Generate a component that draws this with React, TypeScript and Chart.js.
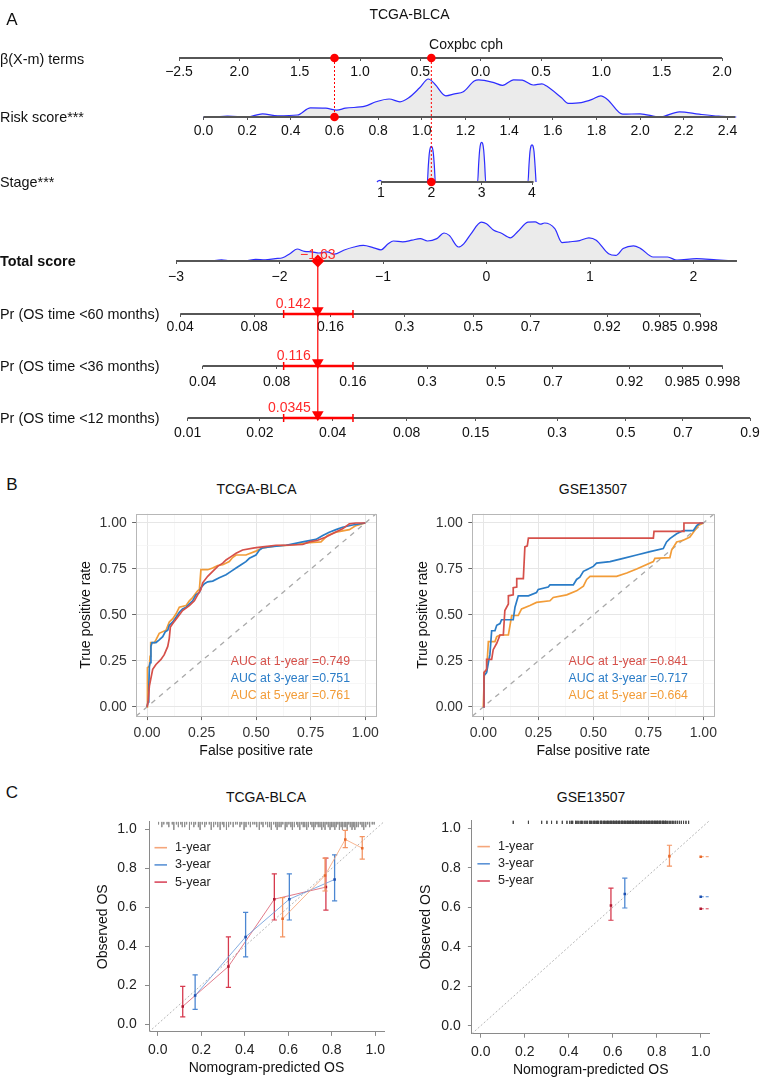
import React, { useEffect, useRef } from 'react';
import { Chart, registerables } from 'chart.js';

Chart.register(...registerables);

const FONT = "'Liberation Sans', Arial, Helvetica, sans-serif";
Chart.defaults.font.family = FONT;

// ================= Panel A : nomogram data =================
const betaTicks = [-2.5, -2, -1.5, -1, -0.5, 0, 0.5, 1, 1.5, 2];
const betaTickLabels = ['\u22122.5', '2.0', '1.5', '1.0', '0.5', '0.0', '0.5', '1.0', '1.5', '2.0'];
const riskTicks = [0, 0.2, 0.4, 0.6, 0.8, 1.0, 1.2, 1.4, 1.6, 1.8, 2.0, 2.2, 2.4];
const riskTickLabels = ['0.0', '0.2', '0.4', '0.6', '0.8', '1.0', '1.2', '1.4', '1.6', '1.8', '2.0', '2.2', '2.4'];
const stageTicks = [1, 2, 3, 4];
const stageTickLabels = ['1', '2', '3', '4'];
const totalTicks = [-3, -2, -1, 0, 1, 2];
const totalTickLabels = ['\u22123', '\u22122', '\u22121', '0', '1', '2'];
const pr60Ticks = [0.04, 0.08, 0.16, 0.3, 0.5, 0.7, 0.92, 0.985, 0.998];
const pr36Ticks = [0.04, 0.08, 0.16, 0.3, 0.5, 0.7, 0.92, 0.985, 0.998];
const pr12Ticks = [0.01, 0.02, 0.04, 0.08, 0.15, 0.3, 0.5, 0.7, 0.9];
const baseSurv60 = 0.4552;
const baseSurv36 = 0.5307;
const baseSurv12 = 0.8349;

const riskRange = [0, 2.435];
const stageRange = [1, 4.03];
const totalRange = [-3, 2.42];

const riskDensX = [0.00, 0.04, 0.11, 0.20, 0.27, 0.34, 0.43, 0.49, 0.56, 0.61, 0.65, 0.74, 0.79, 0.85, 0.90, 0.94, 0.99, 1.03, 1.06, 1.11, 1.15, 1.19, 1.24, 1.26, 1.33, 1.37, 1.42, 1.46, 1.51, 1.55, 1.57, 1.64, 1.67, 1.73, 1.78, 1.82, 1.85, 1.92, 2.00, 2.09, 2.18, 2.27, 2.36, 2.44];
const riskDensY = [0, 0, 0.02, 0, 0.08, 0.03, 0.05, 0.23, 0.22, 0.17, 0.22, 0.27, 0.38, 0.45, 0.38, 0.48, 0.73, 0.95, 0.82, 0.53, 0.58, 0.63, 0.90, 0.93, 0.86, 0.79, 0.93, 0.92, 0.80, 0.83, 0.78, 0.48, 0.34, 0.36, 0.44, 0.53, 0.44, 0.07, 0.08, 0, 0.13, 0.07, 0.02, 0];

const stageDensX = [0.92, 0.95, 0.98, 1.01, 1.04, 1.92, 1.94, 1.96, 1.98, 2.00, 2.02, 2.04, 2.06, 2.08, 2.92, 2.94, 2.96, 2.98, 3.00, 3.02, 3.04, 3.06, 3.08, 3.92, 3.94, 3.96, 3.98, 4.00, 4.02, 4.04, 4.06, 4.08];
const stageDensY = [0, 0.03, 0.04, 0.02, 0, 0, 0.4, 0.72, 0.86, 0.89, 0.86, 0.72, 0.4, 0, 0, 0.45, 0.8, 0.96, 0.99, 0.96, 0.8, 0.45, 0, 0, 0.42, 0.76, 0.9, 0.93, 0.9, 0.76, 0.42, 0];

const totalDensX = [-2.66, -2.56, -2.47, -2.33, -2.23, -2.14, -2.04, -1.97, -1.90, -1.83, -1.76, -1.69, -1.62, -1.54, -1.47, -1.38, -1.28, -1.19, -1.09, -1.02, -0.95, -0.90, -0.81, -0.72, -0.64, -0.57, -0.48, -0.41, -0.36, -0.27, -0.22, -0.15, -0.05, 0.00, 0.07, 0.14, 0.23, 0.30, 0.40, 0.47, 0.52, 0.56, 0.66, 0.73, 0.80, 0.90, 0.99, 1.06, 1.18, 1.25, 1.32, 1.42, 1.49, 1.61, 1.75, 1.84, 2.03, 2.22, 2.41];
const totalDensY = [0, 0.03, 0, 0, 0.04, 0.03, 0.06, 0.08, 0.18, 0.3, 0.24, 0.23, 0.2, 0.23, 0.17, 0.27, 0.35, 0.39, 0.33, 0.28, 0.43, 0.5, 0.48, 0.52, 0.56, 0.5, 0.56, 0.7, 0.64, 0.35, 0.43, 0.68, 0.97, 0.93, 0.77, 0.7, 0.58, 0.73, 0.97, 0.98, 0.92, 0.95, 0.81, 0.46, 0.48, 0.51, 0.58, 0.52, 0.18, 0.14, 0.31, 0.38, 0.31, 0.1, 0.1, 0.02, 0.06, 0.03, 0];

const patientRisk = 0.6;
const patientStage = 2;
const patientTotal = -1.63;
const patientTotalLabel = '\u22121.63';
const patientProbLabels = ['0.142', '0.116', '0.0345'];
const patientCI = [-1.96, -1.29];

const nomRowLabels = ['\u03b2(X-m) terms', 'Risk score***', 'Stage***', 'Total score', 'Pr (OS time <60 months)', 'Pr (OS time <36 months)', 'Pr (OS time <12 months)'];

// ================= Panel B : ROC data =================
const tcga1Fpr = [0, 0.005, 0.011, 0.026, 0.041, 0.064, 0.079, 0.095, 0.102, 0.107, 0.118, 0.140, 0.163, 0.194, 0.217, 0.232, 0.247, 0.255, 0.278, 0.301, 0.324, 0.347, 0.362, 0.385, 0.408, 0.438, 0.492, 0.530, 0.591, 0.637, 0.713, 0.744, 0.782, 0.820, 0.858, 0.896, 0.927, 0.957, 1];
const tcga1Tpr = [0, 0.027, 0.115, 0.204, 0.231, 0.258, 0.284, 0.329, 0.373, 0.435, 0.453, 0.488, 0.524, 0.551, 0.577, 0.609, 0.639, 0.675, 0.710, 0.737, 0.764, 0.782, 0.799, 0.817, 0.835, 0.853, 0.865, 0.870, 0.879, 0.879, 0.883, 0.897, 0.906, 0.924, 0.947, 0.968, 0.995, 1, 1];
const tcga3Fpr = [0, 0.005, 0.008, 0.011, 0.014, 0.018, 0.023, 0.041, 0.056, 0.072, 0.084, 0.095, 0.102, 0.118, 0.133, 0.148, 0.163, 0.179, 0.194, 0.209, 0.224, 0.240, 0.247, 0.263, 0.278, 0.301, 0.331, 0.362, 0.385, 0.408, 0.431, 0.453, 0.469, 0.499, 0.515, 0.530, 0.560, 0.637, 0.713, 0.774, 0.805, 0.835, 0.866, 0.896, 0.942, 1];
const tcga3Tpr = [0, 0.027, 0.098, 0.222, 0.240, 0.329, 0.350, 0.350, 0.364, 0.382, 0.409, 0.417, 0.444, 0.462, 0.488, 0.515, 0.533, 0.542, 0.560, 0.577, 0.609, 0.622, 0.648, 0.670, 0.680, 0.684, 0.702, 0.719, 0.737, 0.755, 0.773, 0.790, 0.808, 0.826, 0.853, 0.865, 0.870, 0.879, 0.897, 0.911, 0.932, 0.950, 0.964, 0.977, 0.989, 1];
const tcga5Fpr = [0, 0.002, 0.011, 0.014, 0.017, 0.034, 0.041, 0.056, 0.087, 0.102, 0.118, 0.133, 0.148, 0.179, 0.194, 0.209, 0.232, 0.240, 0.247, 0.278, 0.301, 0.324, 0.347, 0.377, 0.392, 0.408, 0.453, 0.499, 0.530, 0.591, 0.653, 0.744, 0.797, 0.827, 0.866, 0.927, 0.957, 1];
const tcga5Tpr = [0, 0.213, 0.222, 0.275, 0.350, 0.350, 0.364, 0.400, 0.417, 0.462, 0.480, 0.506, 0.542, 0.551, 0.577, 0.595, 0.631, 0.639, 0.746, 0.746, 0.755, 0.769, 0.773, 0.790, 0.812, 0.826, 0.826, 0.847, 0.865, 0.876, 0.879, 0.893, 0.897, 0.932, 0.950, 0.964, 0.986, 1];

const gse1Fpr = [0, 0.003, 0.015, 0.015, 0.038, 0.045, 0.061, 0.076, 0.091, 0.098, 0.114, 0.114, 0.136, 0.136, 0.152, 0.152, 0.182, 0.189, 0.200, 0.205, 0.773, 0.776, 0.909, 0.912, 1];
const gse1Tpr = [0, 0.187, 0.204, 0.258, 0.258, 0.311, 0.346, 0.391, 0.391, 0.524, 0.560, 0.604, 0.609, 0.648, 0.652, 0.698, 0.698, 0.870, 0.876, 0.918, 0.918, 0.954, 0.954, 1, 1];
const gse3Fpr = [0, 0.003, 0.015, 0.023, 0.030, 0.038, 0.053, 0.061, 0.076, 0.083, 0.136, 0.144, 0.159, 0.205, 0.242, 0.250, 0.295, 0.303, 0.409, 0.424, 0.439, 0.455, 0.470, 0.500, 0.515, 0.576, 0.636, 0.697, 0.758, 0.818, 0.833, 0.848, 0.879, 0.909, 0.955, 0.970, 0.985, 1];
const gse3Tpr = [0, 0.169, 0.187, 0.240, 0.284, 0.414, 0.414, 0.444, 0.453, 0.474, 0.474, 0.542, 0.604, 0.604, 0.622, 0.639, 0.652, 0.663, 0.663, 0.693, 0.705, 0.737, 0.746, 0.764, 0.782, 0.790, 0.808, 0.826, 0.844, 0.861, 0.897, 0.915, 0.941, 0.959, 0.959, 0.986, 1, 1];
const gse5Fpr = [0, 0.005, 0.015, 0.023, 0.053, 0.061, 0.076, 0.114, 0.129, 0.159, 0.174, 0.212, 0.242, 0.303, 0.318, 0.379, 0.424, 0.455, 0.470, 0.485, 0.606, 0.652, 0.697, 0.773, 0.780, 0.848, 0.856, 0.879, 0.909, 0.939, 0.955, 0.977, 1];
const gse5Tpr = [0, 0.190, 0.195, 0.355, 0.355, 0.382, 0.391, 0.391, 0.497, 0.497, 0.533, 0.551, 0.568, 0.577, 0.595, 0.609, 0.631, 0.657, 0.693, 0.710, 0.710, 0.728, 0.750, 0.790, 0.808, 0.812, 0.853, 0.897, 0.906, 0.924, 0.950, 0.986, 1];

const rocTicks = [0, 0.125, 0.25, 0.375, 0.5, 0.625, 0.75, 0.875, 1];
const aucTcga = ['AUC at 1-year =0.749', 'AUC at 3-year =0.751', 'AUC at 5-year =0.761'];
const aucGse = ['AUC at 1-year =0.841', 'AUC at 3-year =0.717', 'AUC at 5-year =0.664'];

// ================= Panel C : calibration data =================
const calTicks = [0, 0.2, 0.4, 0.6, 0.8, 1.0];
const calLegend = ['1-year', '3-year', '5-year'];

const tcgaPred1 = [0.574, 0.769, 0.862, 0.940];
const tcgaObs1 = [0.541, 0.764, 0.949, 0.904];
const tcgaLo1 = [0.448, 0.684, 0.907, 0.848];
const tcgaHi1 = [0.650, 0.853, 0.995, 0.963];
const tcgaPred3 = [0.172, 0.404, 0.605, 0.813];
const tcgaObs3 = [0.147, 0.448, 0.642, 0.743];
const tcgaLo3 = [0.076, 0.345, 0.535, 0.633];
const tcgaHi3 = [0.253, 0.574, 0.772, 0.870];
const tcgaPred5 = [0.115, 0.325, 0.536, 0.773];
const tcgaObs5 = [0.091, 0.296, 0.642, 0.704];
const tcgaLo5 = [0.037, 0.189, 0.535, 0.586];
const tcgaHi5 = [0.194, 0.448, 0.772, 0.853];

const gsePred1 = [0.858];
const gseObs1 = [0.860];
const gseLo1 = [0.809];
const gseHi1 = [0.915];
const gsePred3 = [0.655];
const gseObs3 = [0.668];
const gseLo3 = [0.597];
const gseHi3 = [0.748];
const gsePred5 = [0.592];
const gseObs5 = [0.610];
const gseLo5 = [0.535];
const gseHi5 = [0.698];
const gseEdgeObs = [0.857, 0.654, 0.593];

const rugTcga = [0.004, 0.019, 0.028, 0.043, 0.051, 0.067, 0.074, 0.086, 0.095, 0.106, 0.113, 0.124, 0.133, 0.146, 0.155, 0.166, 0.174, 0.187, 0.195, 0.205, 0.216, 0.224, 0.237, 0.246, 0.257, 0.266, 0.276, 0.287, 0.297, 0.304, 0.316, 0.326, 0.335, 0.347, 0.358, 0.366, 0.378, 0.386, 0.397, 0.406, 0.417, 0.426, 0.437, 0.446, 0.455, 0.467, 0.476, 0.484, 0.496, 0.505, 0.514, 0.522, 0.533, 0.542, 0.549, 0.558, 0.567, 0.575, 0.586, 0.594, 0.603, 0.612, 0.619, 0.628, 0.638, 0.644, 0.653, 0.662, 0.669, 0.676, 0.685, 0.693, 0.702, 0.709, 0.717, 0.724, 0.732, 0.738, 0.746, 0.754, 0.762, 0.769, 0.777, 0.784, 0.792, 0.799, 0.806, 0.814, 0.821, 0.828, 0.835, 0.843, 0.849, 0.857, 0.864, 0.871, 0.878, 0.885, 0.893, 0.899, 0.906, 0.914, 0.922, 0.931, 0.939, 0.947, 0.956, 0.965, 0.974, 0.986, 0.995];
const rugTcgaFreq = [1, 2, 1, 1, 2, 1, 3, 1, 2, 1, 2, 2, 1, 3, 1, 2, 1, 2, 3, 1, 2, 1, 1, 3, 2, 1, 2, 3, 1, 2, 3, 2, 1, 2, 1, 1, 2, 1, 3, 2, 1, 2, 1, 1, 2, 3, 1, 2, 1, 2, 2, 3, 1, 2, 3, 2, 2, 1, 3, 2, 1, 2, 3, 2, 1, 2, 3, 1, 2, 2, 3, 2, 1, 2, 3, 2, 1, 2, 2, 3, 2, 3, 1, 2, 3, 2, 2, 3, 2, 1, 3, 2, 3, 2, 2, 3, 1, 2, 3, 2, 3, 2, 2, 1, 2, 3, 2, 1, 2, 1, 1];
const rugGse = [0.148, 0.217, 0.277, 0.301, 0.322, 0.346, 0.371, 0.392, 0.405, 0.413, 0.418, 0.431, 0.437, 0.443, 0.452, 0.458, 0.464, 0.473, 0.479, 0.485, 0.494, 0.498, 0.503, 0.511, 0.516, 0.52, 0.527, 0.531, 0.536, 0.544, 0.548, 0.551, 0.559, 0.562, 0.566, 0.573, 0.577, 0.58, 0.587, 0.591, 0.594, 0.601, 0.604, 0.607, 0.614, 0.617, 0.62, 0.627, 0.63, 0.633, 0.64, 0.643, 0.646, 0.652, 0.655, 0.659, 0.665, 0.668, 0.671, 0.677, 0.681, 0.684, 0.69, 0.693, 0.696, 0.702, 0.705, 0.708, 0.714, 0.717, 0.72, 0.726, 0.73, 0.733, 0.739, 0.742, 0.745, 0.751, 0.754, 0.757, 0.763, 0.766, 0.769, 0.775, 0.779, 0.782, 0.788, 0.791, 0.794, 0.8, 0.803, 0.806, 0.812, 0.815, 0.818, 0.825, 0.828, 0.831, 0.837, 0.84, 0.843, 0.85, 0.857, 0.864, 0.871, 0.878, 0.886, 0.894, 0.903, 0.912, 0.922, 0.933, 0.945];
const rugGseFreq = [1];

// ================= styles / layout =================
const RED = '#ff0000';
const ROC_COLORS = ['#d6504a', '#2a7cc7', '#f29c38'];
const CAL = [
  { bar: '#f39462', line: 'rgba(246,168,126,0.85)', pt: '#e8692a', legend: '#f5a67b' },
  { bar: '#4c87d2', line: 'rgba(110,158,220,0.85)', pt: '#1c4fb0', legend: '#5c93d6' },
  { bar: '#d63a4e', line: 'rgba(220,100,118,0.85)', pt: '#b01830', legend: '#da4a5e' },
];
const A_W = 769;
const A_H = 450;
const ROW = { beta: 58, risk: 117, stage: 182, total: 261, p60: 314, p36: 366, p12: 418 };
const DENS_H = 40;

// ================= plugins =================
function textPlugin(items: any[]) {
  return {
    id: 'textMarks',
    afterDatasetsDraw(chart: any) {
      const ctx = chart.ctx;
      ctx.save();
      for (const it of items) {
        const xs = chart.scales[it.xScale || 'x'];
        const ys = chart.scales[it.yScale || 'y'];
        const px = xs.getPixelForValue(it.x) + (it.dx || 0);
        const py = ys.getPixelForValue(it.y) + (it.dy || 0);
        ctx.font = it.font;
        ctx.fillStyle = it.color;
        ctx.textAlign = it.align || 'center';
        ctx.textBaseline = 'middle';
        ctx.fillText(it.text, px, py);
      }
      ctx.restore();
    },
  };
}

function framePlugin(color: string) {
  return {
    id: 'panelFrame',
    afterDraw(chart: any) {
      const { ctx, chartArea: a } = chart;
      ctx.save();
      ctx.strokeStyle = color;
      ctx.lineWidth = 1;
      ctx.strokeRect(Math.round(a.left) + 0.5, Math.round(a.top) + 0.5, Math.round(a.right - a.left), Math.round(a.bottom - a.top));
      ctx.restore();
    },
  };
}

function insetLegend(labels: string[], colors: string[]) {
  return {
    id: 'insetLegend',
    afterDatasetsDraw(chart: any) {
      const { ctx, chartArea: a } = chart;
      ctx.save();
      ctx.font = `12.6px ${FONT}`;
      ctx.textBaseline = 'middle';
      ctx.textAlign = 'left';
      labels.forEach((lab, i) => {
        const y = a.top + 26 + i * 17.2;
        ctx.strokeStyle = colors[i];
        ctx.lineWidth = 1.6;
        ctx.beginPath();
        ctx.moveTo(a.left + 5.5, y);
        ctx.lineTo(a.left + 18, y);
        ctx.stroke();
        ctx.fillStyle = '#222';
        ctx.fillText(lab, a.left + 26, y);
      });
      ctx.restore();
    },
  };
}

// ================= Panel A config =================
function nomogramConfig() {
  const span = (v0: number, p0: number, v1: number, p1: number) => {
    const u = (v1 - v0) / (p1 - p0);
    const min = v0 - p0 * u;
    return { min, max: min + A_W * u };
  };
  const sBeta = span(-2.5, 179, 2.0, 722);
  const sRisk = span(0, 203.5, 2.4, 727.5);
  const sStage = span(1, 381, 4, 532);
  const sTotal = span(-3, 176, 2, 693.5);
  const lp = (p: number, s0: number) => Math.log(Math.log(1 - p) / Math.log(s0));
  const tickFont = { family: FONT, size: 14 };
  const rowAxis = (s: any, y: number, values: number[], labels: string[], pad: number) => ({
    type: 'linear',
    axis: 'x',
    min: s.min,
    max: s.max,
    position: { y },
    afterBuildTicks: (sc: any) => {
      sc.ticks = values.map((v) => ({ value: v }));
    },
    ticks: { autoSkip: false, maxRotation: 0, minRotation: 0, padding: pad, color: '#111', font: tickFont, callback: (_v: any, i: number) => labels[i] },
    grid: { display: true, drawOnChartArea: false, drawTicks: true, tickLength: 3, tickColor: '#555', tickWidth: 1 },
    border: { display: false },
  });
  const p60 = pr60Ticks.map((p) => lp(p, baseSurv60));
  const p36 = pr36Ticks.map((p) => lp(p, baseSurv36));
  const p12 = pr12Ticks.map((p) => lp(p, baseSurv12));

  const line = (xAxisID: string, pts: any[], extra: any) => ({
    type: 'scatter', xAxisID, yAxisID: 'y', data: pts, showLine: true, pointRadius: 0, borderWidth: 1, fill: false, ...extra,
  });
  const dens = (xAxisID: string, xs: number[], ds: number[], base: number) =>
    line(xAxisID, xs.map((x, i) => ({ x, y: base - ds[i] * DENS_H })), {
      borderColor: '#2d2dff', borderWidth: 1.2, backgroundColor: '#ebebeb', fill: { value: base }, cubicInterpolationMode: 'monotone', order: 5,
    });
  const axisLine = (xAxisID: string, a: number, b: number, y: number) =>
    line(xAxisID, [{ x: a, y }, { x: b, y }], { borderColor: '#565656', borderWidth: 2, order: 4 });
  const dash = { borderColor: RED, borderWidth: 1, borderDash: [2, 2], order: 2 };
  const dot = (xAxisID: string, pts: any[], style: string, r: number, rot = 0) => ({
    type: 'scatter', xAxisID, yAxisID: 'y', data: pts, showLine: false, pointStyle: style, pointRadius: r, pointRotation: rot,
    pointBackgroundColor: RED, pointBorderColor: RED, pointBorderWidth: 0, order: 1,
  });
  const probRows = [ROW.p60, ROW.p36, ROW.p12];

  const datasets: any[] = [
    dens('xRisk', riskDensX, riskDensY, ROW.risk),
    dens('xStage', stageDensX, stageDensY, ROW.stage),
    dens('xTotal', totalDensX, totalDensY, ROW.total),
    axisLine('xBeta', betaTicks[0], betaTicks[betaTicks.length - 1], ROW.beta),
    axisLine('xRisk', riskRange[0], riskRange[1], ROW.risk),
    axisLine('xStage', stageRange[0], stageRange[1], ROW.stage),
    axisLine('xTotal', totalRange[0], totalRange[1], ROW.total),
    axisLine('x60', p60[0], p60[p60.length - 1], ROW.p60),
    axisLine('x36', p36[0], p36[p36.length - 1], ROW.p36),
    axisLine('x12', p12[0], p12[p12.length - 1], ROW.p12),
    line('xRisk', [{ x: patientRisk, y: ROW.beta }, { x: patientRisk, y: ROW.risk }], dash),
    line('xStage', [{ x: patientStage, y: ROW.beta }, { x: patientStage, y: ROW.stage }], dash),
    dot('xRisk', [{ x: patientRisk, y: ROW.beta }, { x: patientRisk, y: ROW.risk }], 'circle', 4.3),
    dot('xStage', [{ x: patientStage, y: ROW.beta }, { x: patientStage, y: ROW.stage }], 'circle', 4.3),
    line('xTotal', [{ x: patientTotal, y: ROW.total }, { x: patientTotal, y: ROW.p12 }], { borderColor: RED, borderWidth: 1.2, order: 2 }),
    dot('xTotal', [{ x: patientTotal, y: ROW.total }], 'rectRot', 6.5),
  ];
  probRows.forEach((r) => {
    datasets.push(line('xTotal', [{ x: patientCI[0], y: r }, { x: patientCI[1], y: r }], {
      borderColor: RED, borderWidth: 2.5, pointStyle: 'line', pointRotation: 90, pointRadius: 4, pointBorderColor: RED, pointBorderWidth: 1.5, order: 1,
    }));
    datasets.push(dot('xTotal', [{ x: patientTotal, y: r - 3.4 }], 'triangle', 6.7, 180));
  });

  const redFont = `14px ${FONT}`;
  const texts = [
    { xScale: 'xTotal', x: patientTotal, y: ROW.total, dy: -6, text: patientTotalLabel, color: '#ff2a2a', font: redFont, align: 'center' },
    ...probRows.map((r, i) => ({ xScale: 'xTotal', x: patientTotal, y: r, dx: -7, dy: -10, text: patientProbLabels[i], color: '#ff2a2a', font: redFont, align: 'right' })),
  ];

  return {
    type: 'scatter',
    data: { datasets },
    plugins: [textPlugin(texts)],
    options: {
      responsive: false,
      animation: false,
      events: [],
      layout: { padding: 0, autoPadding: false },
      plugins: { legend: { display: false }, tooltip: { enabled: false } },
      scales: {
        y: { type: 'linear', min: 0, max: A_H, reverse: true, display: false },
        xBeta: rowAxis(sBeta, ROW.beta, betaTicks, betaTickLabels, 2.3),
        xRisk: rowAxis(sRisk, ROW.risk, riskTicks, riskTickLabels, 2.3),
        xStage: rowAxis(sStage, ROW.stage, stageTicks, stageTickLabels, 0),
        xTotal: rowAxis(sTotal, ROW.total, totalTicks, totalTickLabels, 4.3),
        x60: rowAxis(sTotal, ROW.p60, p60, pr60Ticks.map(String), 1.3),
        x36: rowAxis(sTotal, ROW.p36, p36, pr36Ticks.map(String), 4.6),
        x12: rowAxis(sTotal, ROW.p12, p12, pr12Ticks.map(String), 3.6),
      },
    },
  };
}

// ================= Panel B config =================
function rocConfig(curves: { fpr: number[]; tpr: number[] }[], aucLabels: string[], box: any) {
  const isMajor = (v: number) => Math.abs(v * 4 - Math.round(v * 4)) < 1e-6;
  const tickFont = { family: FONT, size: 14 };
  const axis = (title: string, pad: number, fit: (s: any) => void) => ({
    type: 'linear',
    min: -0.05,
    max: 1.05,
    afterBuildTicks: (s: any) => {
      s.ticks = rocTicks.map((v) => ({ value: v }));
    },
    afterFit: fit,
    ticks: { autoSkip: false, maxRotation: 0, padding: pad, color: '#333', font: tickFont, callback: (v: any) => (isMajor(Number(v)) ? Number(v).toFixed(2) : '') },
    grid: {
      color: (c: any) => (c.tick && isMajor(c.tick.value) ? '#e6e6e6' : '#f3f3f3'),
      lineWidth: (c: any) => (c.tick && isMajor(c.tick.value) ? 1 : 0.7),
      tickColor: (c: any) => (c.tick && isMajor(c.tick.value) ? '#666' : 'rgba(0,0,0,0)'),
      tickLength: 4,
      drawTicks: true,
    },
    border: { display: false },
    title: { display: true, text: title, color: '#111', font: { family: FONT, size: 14 }, padding: 0 },
  });
  const datasets: any[] = curves.map((c, i) => ({
    data: c.fpr.map((x, j) => ({ x, y: c.tpr[j] })),
    showLine: true, pointRadius: 0, borderColor: ROC_COLORS[i], borderWidth: 1.7, fill: false,
  }));
  datasets.push({
    data: [{ x: -0.05, y: -0.05 }, { x: 1.05, y: 1.05 }], showLine: true, pointRadius: 0, borderColor: '#a9a9a9', borderWidth: 1.3, borderDash: [5, 5],
  });
  const texts = aucLabels.map((t, i) => ({ x: 0.93, y: [0.245, 0.152, 0.06][i], text: t, color: ROC_COLORS[i], font: `12.3px ${FONT}`, align: 'right' }));
  return {
    type: 'scatter',
    data: { datasets },
    plugins: [textPlugin(texts), framePlugin('#b7b7b7')],
    options: {
      responsive: false,
      animation: false,
      events: [],
      layout: { padding: { left: 0, bottom: 0, top: box.padTop, right: box.padRight }, autoPadding: false },
      plugins: { legend: { display: false }, tooltip: { enabled: false } },
      scales: {
        x: axis('False positive rate', box.xPad, (s: any) => { s.height = box.xH; }),
        y: axis('True positive rate', box.yPad, (s: any) => { s.width = box.yW; }),
      },
    },
  };
}

// ================= Panel C config =================
function rugPoints(vals: number[], freq: number[], top: number, unit: number) {
  const pts: any[] = [];
  vals.forEach((v, i) => {
    const f = freq[i] ?? freq[0] ?? 1;
    pts.push({ x: v, y: top }, { x: v, y: top - f * unit }, { x: v, y: null });
  });
  return pts;
}

function calConfig(series: { pred: number[]; obs: number[]; lo: number[]; hi: number[] }[], connect: boolean, rug: any[], rugColor: string, edges: number[] | null, box: any) {
  const tickFont = { family: FONT, size: 14 };
  const axis = (title: string, pad: number, fit: (s: any) => void) => ({
    type: 'linear',
    min: -0.04,
    max: 1.04,
    afterBuildTicks: (s: any) => {
      s.ticks = calTicks.map((v) => ({ value: v }));
    },
    afterFit: fit,
    ticks: { autoSkip: false, maxRotation: 0, padding: pad, color: '#222', font: tickFont, callback: (v: any) => Number(v).toFixed(1) },
    grid: { display: true, drawOnChartArea: false, drawTicks: true, tickLength: 4, tickColor: '#8a8a8a' },
    border: { display: true, color: '#8a8a8a', width: 1 },
    title: { display: true, text: title, color: '#111', font: { family: FONT, size: 14 }, padding: 0 },
  });
  const datasets: any[] = [];
  series.forEach((s, k) => {
    const c = CAL[k];
    datasets.push({
      data: s.pred.map((x, i) => ({ x, y: s.obs[i] })), showLine: false, pointStyle: 'rect', pointRadius: 1.8,
      pointBackgroundColor: c.pt, pointBorderColor: c.pt, pointBorderWidth: 0,
    });
    const bars: any[] = [];
    s.pred.forEach((x, i) => { bars.push({ x, y: s.lo[i] }, { x, y: s.hi[i] }, { x, y: null }); });
    datasets.push({
      data: bars, showLine: true, borderColor: c.bar, borderWidth: 1.3, pointStyle: 'line', pointRadius: 2.6,
      pointBorderColor: c.bar, pointBorderWidth: 1.2, spanGaps: false,
    });
    if (connect) {
      datasets.push({ data: s.pred.map((x, i) => ({ x, y: s.obs[i] })), showLine: true, pointRadius: 0, borderColor: c.line, borderWidth: 1 });
    }
  });
  if (edges) {
    edges.forEach((yv, k) => {
      datasets.push({
        data: [{ x: 1.0, y: yv }, { x: 1.04, y: yv }], showLine: true, borderColor: CAL[k].bar, borderWidth: 1, borderDash: [3, 2],
        pointStyle: 'rect', pointRadius: [1.8, 0], pointBackgroundColor: CAL[k].pt, pointBorderWidth: 0,
      });
    });
  }
  datasets.push({ data: rug, showLine: true, pointRadius: 0, borderColor: rugColor, borderWidth: 0.8, spanGaps: false });
  datasets.push({ data: [{ x: -0.04, y: -0.04 }, { x: 1.04, y: 1.04 }], showLine: true, pointRadius: 0, borderColor: '#b5b5b5', borderWidth: 1, borderDash: [2, 2] });
  return {
    type: 'scatter',
    data: { datasets },
    plugins: [insetLegend(calLegend, CAL.map((c) => c.legend))],
    options: {
      responsive: false,
      animation: false,
      events: [],
      layout: { padding: { left: 0, bottom: 0, top: box.padTop, right: box.padRight }, autoPadding: false },
      plugins: { legend: { display: false }, tooltip: { enabled: false } },
      scales: {
        x: axis('Nomogram-predicted OS', box.xPad, (s: any) => { s.height = box.xH; }),
        y: axis('Observed OS', box.yPad, (s: any) => { s.width = box.yW; }),
      },
    },
  };
}

// ================= components =================
function ChartCanvas({ left, top, width, height, make }: any) {
  const ref = useRef<HTMLCanvasElement | null>(null);
  useEffect(() => {
    const chart = new Chart(ref.current as HTMLCanvasElement, make());
    return () => chart.destroy();
  }, []);
  return <canvas ref={ref} width={width} height={height} style={{ position: 'absolute', left, top, width, height }} />;
}

function Txt({ x, y, text, size = 14, bold = false, align = 'center' }: any) {
  return (
    <div
      style={{
        position: 'absolute', left: x, top: y, transform: align === 'center' ? 'translate(-50%,-50%)' : 'translate(0,-50%)',
        fontFamily: FONT, fontSize: size, fontWeight: bold ? 'bold' : 'normal', lineHeight: 1, whiteSpace: 'nowrap', color: '#111',
      }}
    >
      {text}
    </div>
  );
}

export default function App() {
  const rowYs = [59, 117, 182, 261, 314, 366, 418];
  return (
    <div style={{ position: 'absolute', left: 0, top: 0, width: 769, height: 1081, overflow: 'hidden', background: '#fff' }}>
      <ChartCanvas left={0} top={0} width={A_W} height={A_H} make={nomogramConfig} />
      <ChartCanvas
        left={78} top={500} width={312} height={260}
        make={() => rocConfig(
          [{ fpr: tcga1Fpr, tpr: tcga1Tpr }, { fpr: tcga3Fpr, tpr: tcga3Tpr }, { fpr: tcga5Fpr, tpr: tcga5Tpr }],
          aucTcga,
          { padTop: 9.6, padRight: 13.8, yW: 58.1, xH: 43.9, xPad: 4.8, yPad: 5.4 },
        )}
      />
      <ChartCanvas
        left={415} top={500} width={313} height={260}
        make={() => rocConfig(
          [{ fpr: gse1Fpr, tpr: gse1Tpr }, { fpr: gse3Fpr, tpr: gse3Tpr }, { fpr: gse5Fpr, tpr: gse5Tpr }],
          aucGse,
          { padTop: 9.6, padRight: 13.7, yW: 57.3, xH: 43.9, xPad: 4.8, yPad: 5.4 },
        )}
      />
      <ChartCanvas
        left={95} top={805} width={303} height={272}
        make={() => calConfig(
          [
            { pred: tcgaPred1, obs: tcgaObs1, lo: tcgaLo1, hi: tcgaHi1 },
            { pred: tcgaPred3, obs: tcgaObs3, lo: tcgaLo3, hi: tcgaHi3 },
            { pred: tcgaPred5, obs: tcgaObs5, lo: tcgaLo5, hi: tcgaHi5 },
          ],
          true,
          rugPoints(rugTcga, rugTcgaFreq, 1.04, 0.014),
          '#8c8c8c',
          null,
          { padTop: 13.8, padRight: 14, yW: 54, xH: 45.1, xPad: 5.7, yPad: 8.3 },
        )}
      />
      <ChartCanvas
        left={418} top={805} width={306} height={274}
        make={() => calConfig(
          [
            { pred: gsePred1, obs: gseObs1, lo: gseLo1, hi: gseHi1 },
            { pred: gsePred3, obs: gseObs3, lo: gseLo3, hi: gseHi3 },
            { pred: gsePred5, obs: gseObs5, lo: gseLo5, hi: gseHi5 },
          ],
          false,
          rugPoints(rugGse, rugGseFreq, 1.04, 0.017),
          '#444444',
          gseEdgeObs,
          { padTop: 12, padRight: 14.5, yW: 53.9, xH: 45.3, xPad: 5.6, yPad: 7.2 },
        )}
      />

      <Txt x={12} y={19} text="A" size={17} />
      <Txt x={409.5} y={14} text="TCGA-BLCA" />
      <Txt x={466} y={44} text="Coxpbc cph" />
      {nomRowLabels.map((t, i) => (
        <Txt key={t} x={0} y={rowYs[i]} text={t} align="left" bold={i === 3} size={14.4} />
      ))}

      <Txt x={12} y={484} text="B" size={17} />
      <Txt x={256.5} y={489} text="TCGA-BLCA" />
      <Txt x={593} y={489} text="GSE13507" />

      <Txt x={12} y={792} text="C" size={17} />
      <Txt x={266} y={797} text="TCGA-BLCA" />
      <Txt x={591} y={797} text="GSE13507" />
    </div>
  );
}
